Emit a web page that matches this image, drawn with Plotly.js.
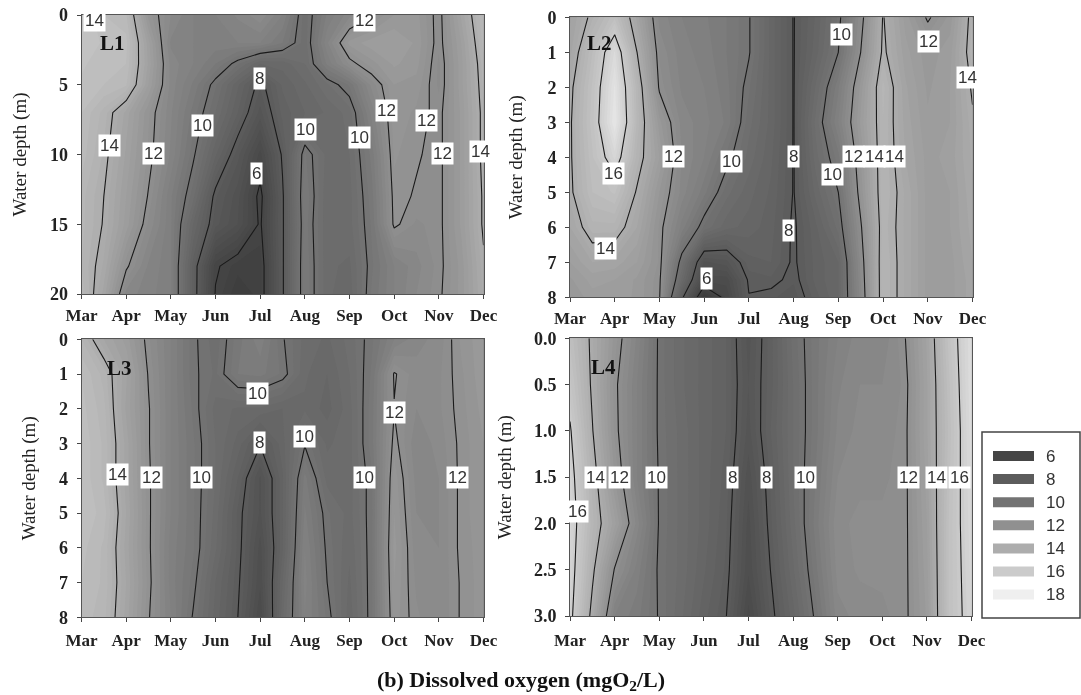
<!DOCTYPE html>
<html>
<head>
<meta charset="utf-8">
<script src="https://cdn.plot.ly/plotly-3.0.1.min.js"></script>
<style>html,body{margin:0;padding:0;background:#fff}#chart{width:1081px;height:695px;filter:blur(0.45px)}</style>
</head>
<body>
<div id="chart"></div>
<script>
const monthNames = ['Mar','Apr','May','Jun','Jul','Aug','Sep','Oct','Nov','Dec'];
const monthTicks = [0,1,2,3,4,5,6,7,8,9];
const sampleMonths = [0,0.5,1,1.5,2,2.5,3,3.5,4,4.5,5,5.5,6,6.5,7,7.5,8,8.5,9];

const depthsL1 = [0,2,3.5,5,7,10,13,15,18,20];
const oxygenL1 = [
 [15.5,15,14.8,12.4,11.5,11,11,11.3,11.7,11,9.6,10.8,11.4,11.95,12.5,12.6,11.8,13.3,14.8],
 [15.5,15.2,15.1,13.1,11.2,11,10.9,11,11,10.5,9.6,11.2,12.6,12.9,13,12.7,11.8,13,14.6],
 [15.3,15.1,15,13.2,11.4,11,10.5,9.8,9,9.1,9.5,10.8,11.8,12.4,12.8,12.6,11.7,12.9,14.4],
 [15.2,15,14.8,13,11.4,10.7,9.8,8.8,7.8,8.8,9.2,9.7,10.3,11.6,12.5,12.4,11.7,12.9,14.3],
 [15,14.4,13.4,12.3,11.3,10.4,9.5,8.5,7.4,8.6,9,9.3,9.6,11.1,12.4,12.2,11.85,12.8,14.2],
 [14.9,14.2,13.2,12.2,11.2,10.1,8.8,7.6,6.4,8.1,10.3,9.4,9.5,10.6,12.3,12.05,11.85,12.8,14.2],
 [14.6,14,13,11.95,10.8,9.6,7.8,7.1,5.8,7.9,10.5,9.3,9.4,10.4,12.15,11.95,11.85,12.8,14.1],
 [14.6,13.95,12.9,11.7,10.8,9,7.6,7,5.9,7.9,10.4,9.3,9.4,10.3,12.1,11.7,11.85,12.8,14.1],
 [14.5,13.7,12.1,11.2,10.8,8.4,6.1,5.6,5.6,7.9,10.5,9.3,9.2,10.2,11,11.4,11.85,12.6,13.9],
 [14.7,13.4,11.4,11.1,10.8,8.4,5.95,5.3,5.6,7.9,10.5,9.3,9.1,10.3,11,11.5,11.9,12.6,13.8]
];

const depthsL2 = [0,1,2,3,4,5,6,7,7.5,8];
const oxygenL2 = [
 [13.2,14.2,15.2,13.4,11.4,11,10.8,10.5,10.05,8.9,7.97,8.8,9.8,11.7,14.05,12.9,11.9,12.6,14.3],
 [13.4,15,16.8,14,11.7,11.1,10.9,10.5,10.05,8.9,7.97,8.9,10,12,14.15,13.1,12.6,12.9,14.4],
 [13.8,15.3,17.3,14.6,11.9,11.2,11,10.6,9.8,8.9,7.97,9.3,10.7,12.6,14.6,13.3,12.7,13,14.1],
 [13.9,15.4,17.5,14.7,12.6,11.4,11.1,10.7,9.6,8.9,7.97,9.6,11,12.8,14.5,13.4,12.8,13,13.9],
 [13.9,15.2,16.6,14.4,13,11.5,11,10.2,9.4,8.8,7.97,9.4,10.4,12.5,14.5,13.5,12.9,13.1,13.8],
 [13.85,15,15.3,13.9,12.5,11.4,10.6,9.6,9.1,8.7,7.97,9.1,10,12.3,14.5,13.7,12.9,13,13.7],
 [13.5,14.4,14.4,13.5,12.2,10.9,9.7,9.1,8.9,8.6,7.9,8.7,9.6,11.9,14.4,13.7,12.9,13,13.6],
 [13,13.5,13.4,13,12.2,9.7,7.2,7.4,8.4,8.5,7.9,8.6,9,11.6,14.5,13.7,12.9,12.9,13.5],
 [12.7,13.1,13,12.7,12.1,9.2,6.6,6.6,8.1,8.2,7.8,8.6,9,11.5,14.5,13.7,12.9,12.9,13.4],
 [12.5,12.9,12.9,12.7,12.05,8.2,5,6.3,7.97,7.8,7.6,8.4,9,11.4,14.5,13.7,12.9,12.9,13.4]
];

const depthsL3 = [0,1,2,3,4,5,6,7,8];
const oxygenL3 = [
 [14.5,13.5,12.9,11.8,11,10.1,9.6,10.4,10.9,10.05,9.4,9.2,9.6,10.2,11,11.4,11.6,12.3,12.7],
 [15,14.4,13.3,11.95,11,10.1,9.7,10.5,10.6,10.2,9.3,9,9.5,10.3,12.05,11.6,11.7,12.2,12.7],
 [15.1,14.6,13.2,12.05,11,10.2,9.4,9.2,9.2,9,9.2,8.9,9.4,10.4,11.98,11.5,11.7,12.15,12.6],
 [15.2,14.7,13.4,12.05,11,10.3,9.5,8.9,8.05,8.9,9.95,9.2,9.4,10.4,12.15,11.3,11.6,12.1,12.5],
 [15.2,14.7,13.4,12.1,11,10.3,9.5,8.5,7.2,8.7,10.6,9.4,9.4,10.2,12.4,11.4,11.5,12.1,12.5],
 [15.2,14.9,13.5,12.1,11,10.3,9.4,8.2,7.2,8.7,10.8,9.8,9.4,10.2,12.5,11.5,11.5,12.1,12.5],
 [15.1,14.7,13.4,12.1,10.9,10.3,9.3,8.2,6.9,8.7,11,9.9,9.3,10.2,12.6,11.6,11.5,12.1,12.4],
 [15,14.7,13.5,12.15,10.9,10.15,9,8.1,6.8,9,11.1,10,9.2,10.2,12.5,11.7,11.5,12.05,12.4],
 [14.9,14.6,13.4,12.05,11,9.95,8.9,8,6.5,9.2,11,10.2,9.1,10.2,12.4,11.8,11.5,12.05,12.4]
];

const depthsL4 = [0,0.5,1,1.5,2,2.5,3];
const oxygenL4 = [
 [15.2,13.8,12.4,11.2,9.9,9.3,8.9,8.5,7.4,8.4,9.6,10.4,11,11.4,11.3,11.95,13.3,15.4,17],
 [15.6,13.85,12.15,11,9.9,9.3,8.9,8.5,7.5,8.4,9.5,10.4,11.2,11.5,11.5,11.8,13.2,15.2,17],
 [16.1,14.05,12.2,11,9.9,9.4,8.9,8.5,7.4,8.5,9.5,10.4,11.3,11.6,11.6,11.85,13.2,15.1,16.9],
 [16.4,14.4,12.5,11,9.95,9.4,8.9,8.4,7.1,8.3,9.5,10.5,11.5,11.7,11.7,11.85,13.1,15.2,16.8],
 [16.6,14.6,13.1,11.4,9.95,9.4,8.9,8.3,6.9,8.2,9.4,10.6,11.7,11.8,11.8,11.85,13,15.3,16.7],
 [16.5,14.2,11.95,10.9,9.9,9.4,8.8,8.2,6.8,8.02,9.2,10.4,11.6,11.8,11.8,11.85,12.9,15.3,16.6],
 [16.3,13.7,11,10.6,9.95,9.3,8.6,8.02,6.4,7.8,8.9,10.1,11.4,11.6,11.7,11.85,12.8,15.3,16.5]
];

/* contour labels: [text, month, depth] */
const labelsL1 = [['14',.3,.43],['14',.63,9.37],['12',1.62,9.96],['10',2.72,7.89],['8',3.98,4.54],['6',3.92,11.35],['10',5.01,8.2],['10',6.23,8.75],['12',6.34,.4],['12',6.83,6.88],['12',7.72,7.53],['12',8.08,9.92],['14',8.93,9.75]];
const labelsL2 = [['16',.98,4.46],['14',.8,6.61],['12',2.31,3.98],['10',3.62,4.12],['6',3.05,7.46],['8',5,3.98],['8',4.88,6.1],['10',6.06,.5],['10',5.86,4.49],['12',6.33,3.98],['14',6.8,3.98],['14',7.25,3.98],['12',8.01,.68],['14',8.88,1.72]];
const labelsL3 = [['14',.81,3.88],['12',1.57,3.98],['10',2.69,3.98],['10',3.94,1.55],['8',3.99,2.96],['10',5,2.81],['10',6.34,3.98],['12',7,2.1],['12',8.41,3.98]];
const labelsL4 = [['14',.575,1.5],['12',1.11,1.5],['10',1.95,1.5],['8',3.64,1.5],['8',4.41,1.5],['10',5.29,1.5],['12',7.58,1.5],['14',8.22,1.5],['16',8.72,1.5],['16',.16,1.87]];

const legendLevels = [6,8,10,12,14,16,18];
const legendColors = ['#454545','#5c5c5c','#737373','#909090','#adadad','#cbcbcb','#efefef'];
const titleText = '(b) Dissolved oxygen (mgO<sub>2</sub>/L)';

const W = 1081, H = 695;
const serif = 'Liberation Serif, serif', sans = 'Liberation Sans, Arial, sans-serif';
const ink = '#222';
const grayScale = [[0,'#303030'],[2/14,'#454545'],[4/14,'#5c5c5c'],[6/14,'#737373'],[8/14,'#909090'],[10/14,'#adadad'],[12/14,'#cbcbcb'],[1,'#efefef']];

const panels = [
 {name:'L1', depths:depthsL1, z:oxygenL1, labels:labelsL1, box:[81.5,483.5,15,294], yrange:[20,0], yticks:[0,5,10,15,20], yfmt:'', standoff:18, xgap:2, tag:[.69,2.03]},
 {name:'L2', depths:depthsL2, z:oxygenL2, labels:labelsL2, box:[570,972.5,17.3,297.3], yrange:[8,0], yticks:[0,1,2,3,4,5,6,7,8], yfmt:'', standoff:19, xgap:1, tag:[.65,.74]},
 {name:'L3', depths:depthsL3, z:oxygenL3, labels:labelsL3, box:[81.5,483.5,339.3,617.3], yrange:[8,0], yticks:[0,1,2,3,4,5,6,7,8], yfmt:'', standoff:18, xgap:3, tag:[.84,.82]},
 {name:'L4', depths:depthsL4, z:oxygenL4, labels:labelsL4, box:[570,971.5,338.3,616], yrange:[3,0], yticks:[0,.5,1,1.5,2,2.5,3], yfmt:'.1f', standoff:17, xgap:5, tag:[.75,.31]}
];

const traces = [], annotations = [], shapes = [];
const layout = {
 width:W, height:H, margin:{l:0,r:0,t:0,b:0}, paper_bgcolor:'#fff', plot_bgcolor:'#fff', showlegend:false,
 title:{text:titleText, x:521/W, y:1-679/H, xanchor:'center', yanchor:'middle', font:{family:serif,size:22,color:'#111',weight:'bold'}}
};

panels.forEach((p,i)=>{
  const s = i===0 ? '' : String(i+1);
  const xa = 'x'+s, ya = 'y'+s;
  traces.push({type:'contour', x:sampleMonths, y:p.depths, z:p.z, xaxis:xa, yaxis:ya, showscale:false,
    colorscale:grayScale, zauto:false, zmin:4, zmax:18, autocontour:false,
    contours:{start:4,end:18,size:0.25,coloring:'fill',showlines:false}, line:{width:0,smoothing:0}, hoverinfo:'skip'});
  traces.push({type:'contour', x:sampleMonths, y:p.depths, z:p.z, xaxis:xa, yaxis:ya, showscale:false,
    autocontour:false, contours:{start:6,end:16,size:2,coloring:'none'}, line:{color:'#1a1a1a',width:1.1,smoothing:0}, hoverinfo:'skip'});
  layout['xaxis'+s] = {domain:[p.box[0]/W,p.box[1]/W], anchor:ya, range:[0,9], tickmode:'array', tickvals:monthTicks, ticktext:monthNames,
    ticks:'outside', ticklen:4, tickcolor:'#444', showgrid:false, zeroline:false, showline:true, linecolor:'#555', linewidth:1, mirror:true,
    ticklabelstandoff:p.xgap, tickangle:0, tickfont:{family:serif,size:17,color:ink,weight:'bold'}};
  layout['yaxis'+s] = {domain:[1-p.box[3]/H,1-p.box[2]/H], anchor:xa, range:p.yrange, tickmode:'array', tickvals:p.yticks, tickformat:p.yfmt,
    ticks:'outside', ticklen:4, tickcolor:'#444', showgrid:false, zeroline:false, showline:true, linecolor:'#555', linewidth:1, mirror:true,
    ticklabelstandoff:5, tickfont:{family:serif,size:18,color:ink,weight:'bold'},
    title:{text:'Water depth (m)', standoff:p.standoff, font:{family:serif,size:19,color:ink}}};
  p.labels.forEach(l=>annotations.push({xref:xa, yref:ya, x:l[1], y:l[2], text:l[0], showarrow:false, bgcolor:'#fff', borderpad:1,
    font:{family:sans,size:17,color:'#333'}}));
  annotations.push({xref:xa, yref:ya, x:p.tag[0], y:p.tag[1], text:p.name, showarrow:false, font:{family:serif,size:21,color:'#111',weight:'bold'}});
});

/* legend box */
const px = v=>v/W, py = v=>1-v/H;
shapes.push({type:'rect', xref:'paper', yref:'paper', x0:px(982), x1:px(1080), y0:py(432), y1:py(618), fillcolor:'#fff', line:{color:'#444',width:1.5}});
legendLevels.forEach((lv,i)=>{
  const top = 451+i*23.1;
  shapes.push({type:'rect', xref:'paper', yref:'paper', x0:px(993), x1:px(1034), y0:py(top), y1:py(top+10), fillcolor:legendColors[i], line:{width:0}});
  annotations.push({xref:'paper', yref:'paper', x:px(1044), y:py(top+5), xanchor:'left', yanchor:'middle', text:String(lv), showarrow:false,
    font:{family:sans,size:17,color:'#333'}});
});
layout.shapes = shapes;
layout.annotations = annotations;

Plotly.newPlot('chart', traces, layout, {displayModeBar:false, staticPlot:true});
</script>
</body>
</html>
